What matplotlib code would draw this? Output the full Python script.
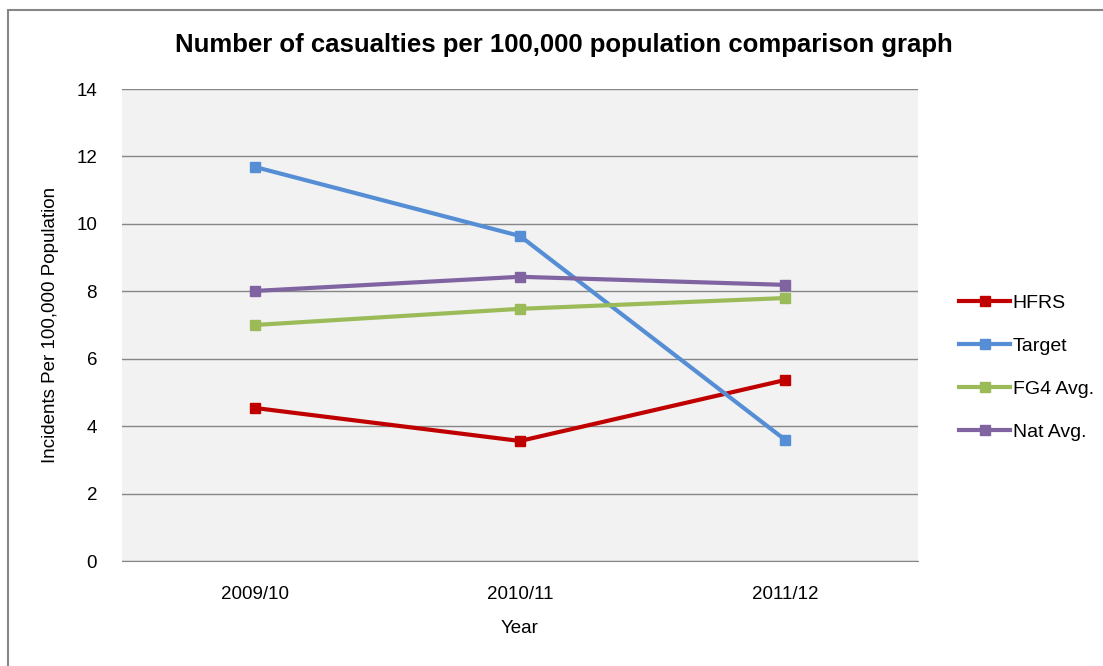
import numpy as np
import matplotlib.pyplot as plt
from matplotlib.patches import Rectangle

plt.rcParams['font.family'] = ['Liberation Sans', 'DejaVu Sans']

years = ["2009/10", "2010/11", "2011/12"]
hfrs = [4.54, 3.56, 5.37]
target = [11.69, 9.64, 3.59]
fg4_avg = [7.0, 7.48, 7.80]
nat_avg = [8.01, 8.43, 8.19]

series = [
    ("HFRS", hfrs, "#c00000"),
    ("Target", target, "#558ed5"),
    ("FG4 Avg.", fg4_avg, "#9bbb59"),
    ("Nat Avg.", nat_avg, "#8064a2"),
]

fig = plt.figure(figsize=(11.03, 6.66), dpi=100)
fig.patches.append(Rectangle((8 / 1103, -0.1), 1.2, (666 - 10) / 666 + 0.1,
                             transform=fig.transFigure, fill=False,
                             edgecolor="#868686", linewidth=1.5))
ax = fig.add_axes([122 / 1103, 1 - 561 / 666, 796 / 1103, 472 / 666])
ax.set_facecolor("#f2f2f2")

x = np.arange(len(years))
for name, vals, col in series:
    ax.plot(x, vals, color=col, linewidth=3, marker="s", markersize=7, label=name)

ax.set_xlim(-0.5, len(years) - 0.5)
ax.set_ylim(0, 14)
ax.set_yticks(range(0, 15, 2))
ax.set_xticks(x)
ax.set_xticklabels(years)
ax.grid(axis="y", color="#868686", linewidth=1)
ax.set_axisbelow(True)
for s in ["top", "right", "left"]:
    ax.spines[s].set_visible(False)
ax.spines["bottom"].set_color("#868686")
ax.tick_params(axis="both", length=0, labelsize=13.5, colors="black")
ax.tick_params(axis="x", pad=18)
ax.tick_params(axis="y", pad=18)

ax.set_xlabel("Year", fontsize=13.5, labelpad=12)
ax.set_ylabel("Incidents Per 100,000 Population", fontsize=13.5, labelpad=12)
fig.text(0.511, 1 - 45 / 666, "Number of casualties per 100,000 population comparison graph",
         ha="center", va="center", fontsize=18.5, fontweight="bold")

ax.legend(loc="center left", bbox_to_anchor=(1.03, 0.41), frameon=False,
          fontsize=14, labelspacing=1.3, handlelength=2.6, handletextpad=0.15)

fig.savefig("out.png", dpi=100)
